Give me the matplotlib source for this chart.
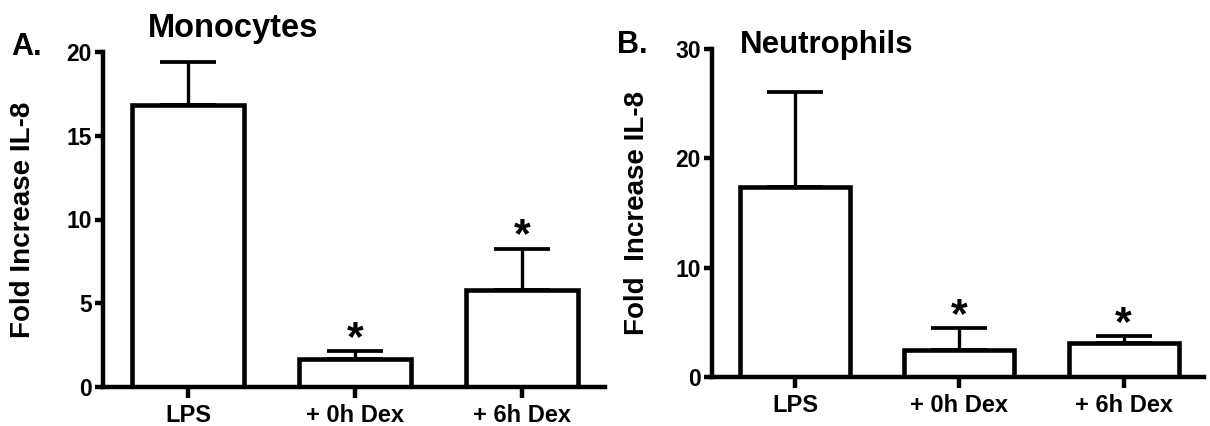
import matplotlib
matplotlib.use("Agg")
import matplotlib.pyplot as plt

plt.rcParams['font.family'] = ['Liberation Sans', 'DejaVu Sans']
plt.rcParams['font.weight'] = 'bold'

categories = ["LPS", "+ 0h Dex", "+ 6h Dex"]
mono_means = [16.84, 1.67, 5.79]
mono_err = [2.56, 0.48, 2.45]
neut_means = [17.38, 2.47, 3.11]
neut_err = [8.69, 2.01, 0.64]
mono_sig = ["", "*", "*"]
neut_sig = ["", "*", "*"]

fig = plt.figure(figsize=(12.10, 4.26), dpi=100)
BAR_LW = 3.3
SPINE_LW = 3.2
ERR_LW = 2.4
CAP_LW = 2.7

def panel(rect, means, err, sig, ymax, yticks, xlim, width, title, title_xy, title_fs,
          letter, letter_xy, ylabel, ylabel_x):
    ax = fig.add_axes(rect)
    x = list(range(len(categories)))
    ax.bar(x, means, width=width, color='white', edgecolor='black', linewidth=BAR_LW, zorder=2)
    ax.errorbar(x, means, yerr=[[0] * len(err), err], fmt='none', ecolor='black',
                elinewidth=ERR_LW, capsize=20.5, capthick=CAP_LW, zorder=1)
    for xi, m, e, s in zip(x, means, err, sig):
        if s:
            ax.annotate(s, (xi, m + e), xytext=(0, 1), textcoords='offset points',
                        ha='center', va='baseline', fontsize=31, fontweight='bold')
    ax.set_ylim(0, ymax)
    ax.set_xlim(*xlim)
    ax.set_yticks(yticks)
    ax.set_xticks(x)
    ax.set_xticklabels(categories)
    for sp in ['top', 'right']:
        ax.spines[sp].set_visible(False)
    for sp in ['left', 'bottom']:
        ax.spines[sp].set_linewidth(SPINE_LW)
        ax.spines[sp].set_capstyle('projecting')
    ax.tick_params(axis='y', direction='out', length=6, width=SPINE_LW, labelsize=16.5, pad=2)
    ax.tick_params(axis='x', direction='out', length=8, width=SPINE_LW, labelsize=17, pad=4)
    for lab in ax.get_xticklabels() + ax.get_yticklabels():
        lab.set_fontweight('bold')
    ax.set_ylabel(ylabel, fontsize=20, fontweight='bold')
    ax.yaxis.set_label_coords(ylabel_x, 0.5)
    fig.text(title_xy[0], title_xy[1], title, fontsize=title_fs, fontweight='bold',
             ha='center', va='center')
    fig.text(letter_xy[0], letter_xy[1], letter, fontsize=22, fontweight='bold',
             ha='center', va='center')
    return ax

panel([103 / 1210, 1 - 387 / 426, 502 / 1210, 335 / 426], mono_means, mono_err, mono_sig,
      20, [0, 5, 10, 15, 20], (-0.509, 2.497), 0.665,
      "Monocytes", (233 / 1210, 1 - 28 / 426), 23.5, "A.", (27 / 1210, 1 - 47 / 426),
      "Fold Increase IL-8", -0.134)
panel([712 / 1210, 1 - 377 / 426, 492 / 1210, 328 / 426], neut_means, neut_err, neut_sig,
      30, [0, 10, 20, 30], (-0.506, 2.49), 0.67,
      "Neutrophils", (827 / 1210, 1 - 45 / 426), 22.5, "B.", (632 / 1210, 1 - 45 / 426),
      "Fold  Increase IL-8", -0.1265)

fig.savefig("out.png", dpi=100)
